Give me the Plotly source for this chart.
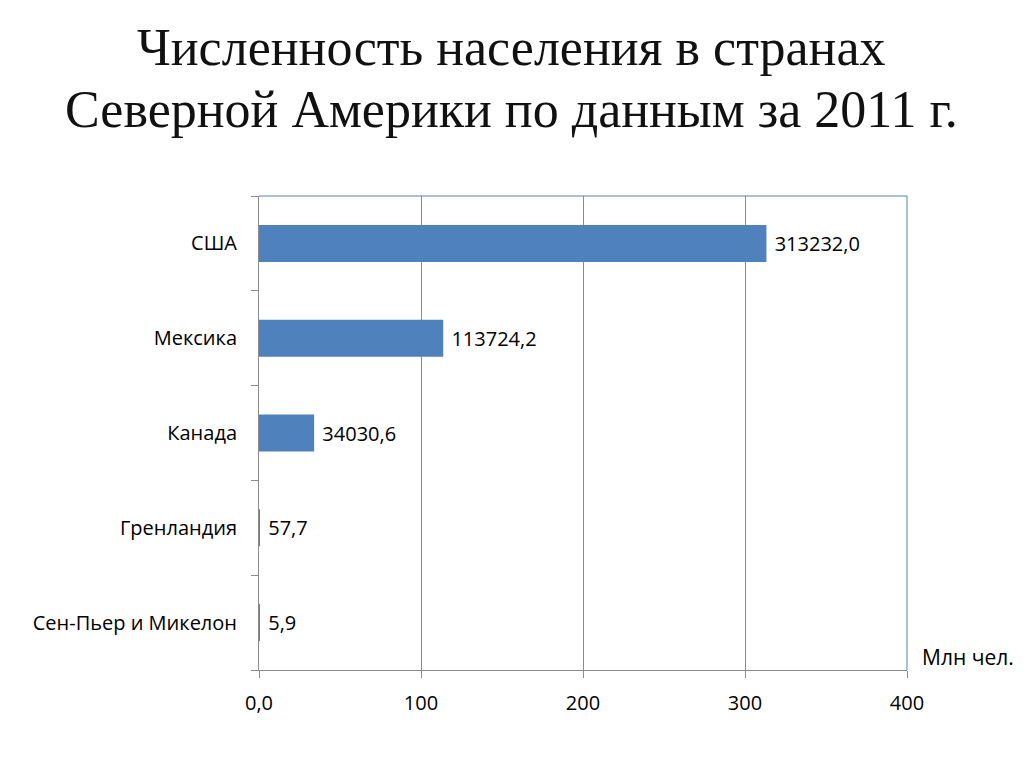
import plotly.graph_objects as go

categories = ["США", "Мексика", "Канада", "Гренландия", "Сен-Пьер и Микелон"]
values_thousands = [313232.0, 113724.2, 34030.6, 57.7, 5.9]
tick_vals = [0, 100, 200, 300, 400]
tick_text = ["0,0", "100", "200", "300", "400"]
title_lines = ["Численность населения в странах", "Северной Америки по данным за 2011 г."]

values_mln = [v / 1000.0 for v in values_thousands]
labels = [" " + f"{v:.1f}".replace(".", ",") for v in values_thousands]

SANS = "Open Sans, Liberation Sans, sans-serif"
SERIF = "Liberation Serif, Times New Roman, serif"

fig = go.Figure()
fig.add_trace(go.Bar(
    y=categories,
    x=values_mln,
    orientation="h",
    marker=dict(color="#4f81bd", line=dict(width=0)),
    width=0.39,
    text=labels,
    textposition="outside",
    textfont=dict(family=SANS, size=20, color="#000000"),
    cliponaxis=False,
))

# page offset of 8px (body margin) compensated in margins
fig.update_layout(
    width=1008, height=751,
    margin=dict(l=251, r=109, t=188, b=89, autoexpand=False),
    paper_bgcolor="white", plot_bgcolor="white",
    showlegend=False,
    xaxis=dict(
        range=[0, 400],
        tickvals=tick_vals, ticktext=tick_text,
        showgrid=True, gridcolor="#8c8c8c", gridwidth=1,
        showline=True, linecolor="#8c8c8c", linewidth=1,
        ticks="outside", ticklen=7, tickcolor="#8c8c8c",
        tickfont=dict(family=SANS, size=20, color="#000000"),
        ticklabelstandoff=8,
        zeroline=False, automargin=False,
    ),
    yaxis=dict(
        categoryorder="array", categoryarray=categories[::-1],
        showline=True, linecolor="#8c8c8c", linewidth=1,
        ticks="outside", ticklen=7, tickcolor="#8c8c8c", tickson="boundaries",
        tickfont=dict(family=SANS, size=20, color="#000000"),
        ticklabelstandoff=17,
        showgrid=False, automargin=False,
    ),
    shapes=[
        dict(type="line", xref="paper", yref="paper", x0=0, x1=1, y0=1, y1=1,
             line=dict(color="#4f81bd", width=1)),
        dict(type="line", xref="paper", yref="paper", x0=1, x1=1, y0=0, y1=1,
             line=dict(color="#4f81bd", width=1)),
    ],
    annotations=[
        dict(text=title_lines[0], xref="paper", yref="paper", x=0.3889, y=1.3143,
             xanchor="center", yanchor="middle", showarrow=False,
             font=dict(family=SERIF, size=52, color="#111111")),
        dict(text=title_lines[1], xref="paper", yref="paper", x=0.3889, y=1.1835,
             xanchor="center", yanchor="middle", showarrow=False,
             font=dict(family=SERIF, size=52, color="#111111")),
        dict(text="Млн чел.", xref="paper", yref="paper", x=1.0201, y=0.0274,
             xanchor="left", yanchor="middle", showarrow=False,
             font=dict(family=SANS, size=21, color="#000000")),
    ],
)

fig.write_html("out.html")
